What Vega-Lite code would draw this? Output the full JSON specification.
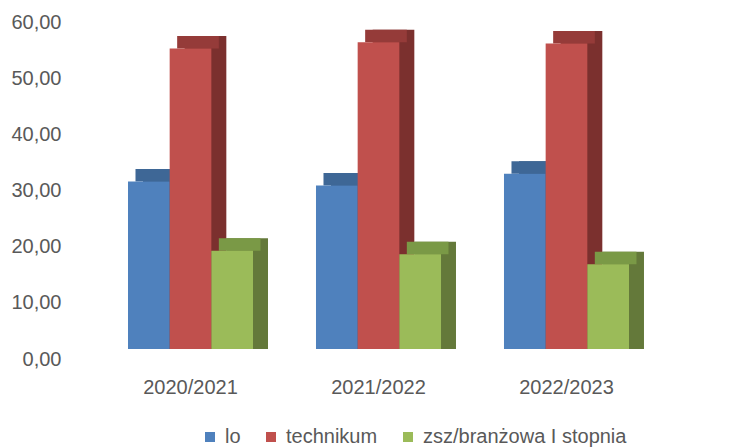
{
  "$schema": "https://vega.github.io/schema/vega-lite/v6.json",
  "width": 617,
  "height": 337,
  "autosize": {"type": "none"},
  "padding": {"left": 70, "top": 12, "right": 53, "bottom": 99},
  "background": "#ffffff",
  "config": {
    "view": {"stroke": null},
    "font": "Liberation Sans"
  },
  "data": {
    "values": [
      {"rok": "2020/2021", "typ": "lo", "wartosc": 29.8},
      {"rok": "2020/2021", "typ": "technikum", "wartosc": 53.5},
      {"rok": "2020/2021", "typ": "zsz/branżowa I stopnia", "wartosc": 17.5},
      {"rok": "2021/2022", "typ": "lo", "wartosc": 29.1},
      {"rok": "2021/2022", "typ": "technikum", "wartosc": 54.6},
      {"rok": "2021/2022", "typ": "zsz/branżowa I stopnia", "wartosc": 16.85},
      {"rok": "2022/2023", "typ": "lo", "wartosc": 31.2},
      {"rok": "2022/2023", "typ": "technikum", "wartosc": 54.4},
      {"rok": "2022/2023", "typ": "zsz/branżowa I stopnia", "wartosc": 15.1}
    ]
  },
  "encoding": {
    "x": {
      "field": "rok",
      "type": "nominal",
      "sort": ["2020/2021", "2021/2022", "2022/2023"],
      "scale": {"paddingInner": 0.335, "paddingOuter": 0.3085},
      "title": null,
      "axis": {
        "domain": false,
        "ticks": false,
        "labelAngle": 0,
        "labelPadding": 28,
        "labelFont": "Liberation Sans",
        "labelFontSize": 20,
        "labelColor": "#595959"
      }
    },
    "y": {
      "field": "wartosc",
      "type": "quantitative",
      "stack": null,
      "scale": {"domain": [0, 60], "nice": false},
      "title": null,
      "axis": {
        "values": [0, 10, 20, 30, 40, 50, 60],
        "labelExpr": "replace(format(datum.value, '.2f'), '.', ',')",
        "grid": false,
        "domain": false,
        "ticks": false,
        "labelPadding": 9,
        "labelOffset": 10,
        "labelFont": "Liberation Sans",
        "labelFontSize": 20,
        "labelColor": "#595959"
      }
    }
  },
  "layer": [
    {
      "mark": {"type": "bar", "yOffset": -12.5, "y2Offset": -4},
      "encoding": {
        "xOffset": {
          "field": "typ",
          "type": "nominal",
          "sort": ["lo", "technikum", "zsz/branżowa I stopnia"],
          "scale": {"paddingInner": 0, "paddingOuter": 0, "range": [15, 140]}
        },
        "color": {
          "field": "typ",
          "type": "nominal",
          "scale": {"domain": ["lo", "technikum", "zsz/branżowa I stopnia"], "range": ["#36587F", "#7B302E", "#64793A"]},
          "legend": null
        }
      }
    },
    {
      "mark": {"type": "bar", "yOffset": -12.5},
      "encoding": {
        "xOffset": {
          "field": "typ",
          "type": "nominal",
          "sort": ["lo", "technikum", "zsz/branżowa I stopnia"],
          "scale": {"paddingInner": 0, "paddingOuter": 0, "range": [7.5, 132.5]}
        },
        "y2": {"field": "wartosc"},
        "color": {
          "field": "typ",
          "type": "nominal",
          "scale": {"domain": ["lo", "technikum", "zsz/branżowa I stopnia"], "range": ["#3E6796", "#953B39", "#7A9946"]},
          "legend": null
        }
      }
    },
    {
      "mark": {"type": "bar"},
      "encoding": {
        "xOffset": {
          "field": "typ",
          "type": "nominal",
          "sort": ["lo", "technikum", "zsz/branżowa I stopnia"],
          "scale": {"paddingInner": 0, "paddingOuter": 0}
        },
        "color": {
          "field": "typ",
          "type": "nominal",
          "scale": {"domain": ["lo", "technikum", "zsz/branżowa I stopnia"], "range": ["#4F81BD", "#C0504D", "#9BBB59"]},
          "legend": {
            "title": null,
            "orient": "none",
            "direction": "horizontal",
            "legendX": 130,
            "legendY": 415,
            "padding": 0,
            "symbolType": "square",
            "symbolSize": 100,
            "symbolStrokeWidth": 0,
            "labelOffset": 5,
            "columnPadding": 20,
            "labelLimit": 0,
            "labelFont": "Liberation Sans",
            "labelFontSize": 20,
            "labelColor": "#595959"
          }
        }
      }
    }
  ],
  "resolve": {"scale": {"color": "independent", "xOffset": "independent"}}
}
